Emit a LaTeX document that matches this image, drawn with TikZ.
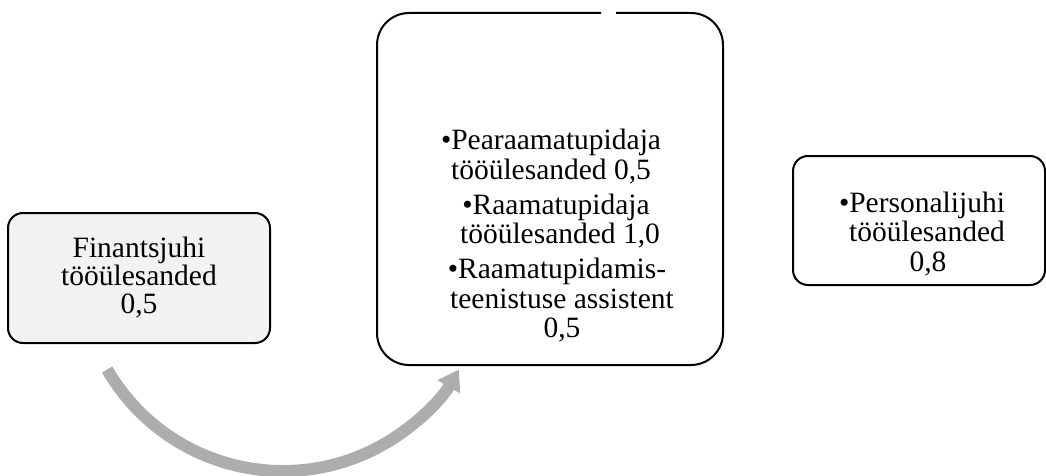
\documentclass[tikz,border=0pt]{standalone}
\usepackage{fontspec}
\setmainfont{Liberation Serif}
\usetikzlibrary{arrows.meta}
\definecolor{boxfill}{HTML}{F2F2F2}
\definecolor{arrowgray}{HTML}{ADADAD}
\begin{document}
\begin{tikzpicture}[x=1pt,y=1pt,
  boxline/.style={draw=black, line width=2pt},
  txt/.style={font=\fontsize{29.5}{29.5}\selectfont, align=center, inner sep=0pt},
  shape box/.style={inner sep=0pt, outer sep=0pt},
]
\useasboundingbox (0,0) rectangle (1046,475);

% left box
\node[shape box, boxline, fill=boxfill, rounded corners=15pt,
      minimum width=262pt, minimum height=130pt, txt,
      font=\fontsize{29.5}{28}\selectfont] (fin) at (139,197)
  {Finantsjuhi\\tööülesanded\\0,5};

% middle box, outline left open at the top
\node[shape box, minimum width=346pt, minimum height=352pt] (mid) at (550,286) {};
\draw[boxline, rounded corners=32pt]
  ([xshift=66pt]mid.north) -- (mid.north east) -- (mid.south east)
  -- (mid.south west) -- (mid.north west) -- ([xshift=51pt]mid.north);
\node[txt] (midtext) at (551,239)
  {•Pearaamatupidaja\\tööülesanded 0,5\\[5.5pt]
   \hspace*{10pt}•Raamatupidaja\\\hspace*{18pt}tööülesanded 1,0\\[5.5pt]
   \hspace*{12pt}•Raamatupidamis-\\\hspace*{22pt}teenistuse assistent\\\hspace*{22pt}0,5};

% right box
\node[shape box, boxline, rounded corners=15pt,
      minimum width=252pt, minimum height=129pt] (per) at (919,254.5) {};
\node[txt] (pertext) at (922,241)
  {•Personalijuhi\\\hspace*{10pt}tööülesanded\\\hspace*{12pt}0,8};

% curved arrow
\coordinate (arcc) at (283,207);
\draw[arrowgray, line width=12pt, -{Triangle[length=20pt,width=25pt]}]
  ([shift={(210:203)}]arcc) arc[start angle=210, end angle=330, radius=203];
\end{tikzpicture}
\end{document}
